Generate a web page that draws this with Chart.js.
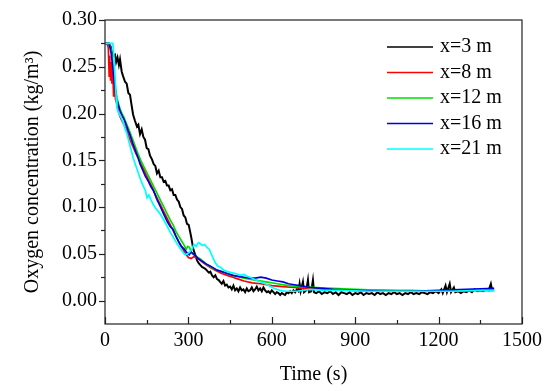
<!DOCTYPE html>
<html>
<head>
<meta charset="utf-8">
<script src="https://cdn.jsdelivr.net/npm/chart.js@4.4.0/dist/chart.umd.min.js"></script>
<style>
  html, body { margin: 0; padding: 0; background: #fff; }
  canvas { display: block; }
</style>
</head>
<body>
<canvas id="chart" width="550" height="391"></canvas>
<script>
// series: time (s) and oxygen concentration (kg/m3)
const labels = ["x=3 m", "x=8 m", "x=12 m", "x=16 m", "x=21 m"];
const colors = ["#000000", "#ff0000", "#00dd00", "#0000dd", "#00ffff"];

const t3 = [0,10,20,25,30,36,40,45,50,54,60,65,72,78,84,90,95,101,108,115,120,126,132,138,144,150,156,162,169,175,181,187,193,199,205,211,217,223,229,235,241,247,253,259,265,271,277,283,289,295,301,306,310,313,317,322,327,331,337,343,349,355,361,367,373,379,385,391,397,403,409,414,420,426,432,438,444,450,456,462,468,474,480,486,492,498,504,510,516,522,528,534,540,546,552,558,564,570,576,582,588,594,600,606,612,618,624,630,636,642,648,654,660,666,672,678,684,690,696,700,704,712,716,724,730,734,742,748,752,760,770,780,790,800,810,820,830,840,850,860,870,880,890,900,910,920,930,940,950,960,970,980,990,1000,1010,1020,1030,1040,1050,1060,1070,1080,1090,1100,1110,1120,1130,1140,1150,1160,1170,1180,1190,1200,1210,1215,1225,1230,1240,1245,1255,1260,1270,1280,1290,1300,1310,1320,1330,1340,1350,1360,1370,1380,1388,1392,1398];
const c3 = [0.275,0.275,0.272,0.265,0.262,0.263,0.255,0.260,0.252,0.258,0.245,0.240,0.234,0.232,0.222,0.220,0.210,0.199,0.192,0.186,0.188,0.178,0.183,0.175,0.172,0.163,0.162,0.155,0.151,0.146,0.144,0.136,0.139,0.132,0.132,0.127,0.128,0.123,0.123,0.118,0.119,0.113,0.113,0.108,0.106,0.100,0.098,0.091,0.089,0.082,0.081,0.074,0.068,0.063,0.056,0.051,0.047,0.043,0.040,0.038,0.036,0.035,0.034,0.032,0.030,0.031,0.027,0.025,0.027,0.023,0.022,0.020,0.018,0.021,0.016,0.017,0.014,0.015,0.012,0.016,0.011,0.013,0.010,0.014,0.011,0.012,0.009,0.013,0.010,0.011,0.014,0.010,0.012,0.015,0.011,0.013,0.010,0.014,0.011,0.009,0.010,0.008,0.011,0.009,0.007,0.009,0.008,0.006,0.008,0.007,0.006,0.009,0.008,0.010,0.008,0.011,0.009,0.012,0.010,0.018,0.010,0.020,0.009,0.011,0.022,0.009,0.010,0.022,0.009,0.008,0.010,0.007,0.009,0.008,0.010,0.007,0.009,0.006,0.009,0.008,0.007,0.009,0.006,0.008,0.007,0.009,0.006,0.008,0.007,0.008,0.006,0.009,0.007,0.008,0.006,0.008,0.007,0.009,0.007,0.008,0.006,0.008,0.007,0.009,0.007,0.008,0.007,0.009,0.008,0.007,0.009,0.008,0.010,0.008,0.012,0.008,0.016,0.009,0.018,0.009,0.014,0.009,0.010,0.008,0.010,0.009,0.011,0.009,0.012,0.010,0.011,0.010,0.012,0.011,0.018,0.012,0.013];

const t8 = [0,8,12,15,17,20,22,25,28,31,34,38,43,50,58,65,72,80,90,100,110,120,130,140,150,160,170,180,190,200,210,220,230,240,250,260,270,280,290,300,310,320,330,342,360,380,400,420,440,460,480,500,530,560,600,640,680,720,760,800,900,1000,1100,1200,1300,1400];
const c8 = [0.275,0.275,0.270,0.240,0.262,0.235,0.255,0.232,0.245,0.218,0.228,0.215,0.210,0.200,0.194,0.190,0.186,0.180,0.172,0.165,0.158,0.152,0.146,0.140,0.133,0.127,0.121,0.114,0.108,0.102,0.096,0.090,0.084,0.078,0.072,0.066,0.060,0.055,0.050,0.046,0.045,0.047,0.046,0.043,0.039,0.035,0.032,0.029,0.027,0.025,0.023,0.021,0.019,0.018,0.016,0.015,0.014,0.013,0.013,0.012,0.011,0.011,0.010,0.010,0.011,0.011];

const t12 = [0,15,22,28,34,40,47,54,61,68,76,83,90,100,110,120,130,140,150,160,170,180,190,200,212,225,235,245,255,265,275,285,292,298,304,310,320,330,345,360,380,400,430,460,500,540,580,620,660,700,760,820,900,1000,1100,1200,1300,1400];
const c12 = [0.275,0.275,0.268,0.255,0.238,0.222,0.212,0.205,0.200,0.196,0.190,0.185,0.180,0.172,0.164,0.156,0.149,0.143,0.137,0.131,0.125,0.119,0.113,0.107,0.100,0.092,0.086,0.081,0.074,0.069,0.064,0.059,0.055,0.058,0.057,0.052,0.049,0.047,0.044,0.040,0.036,0.033,0.030,0.027,0.024,0.022,0.020,0.018,0.016,0.015,0.014,0.013,0.012,0.011,0.011,0.010,0.011,0.011];

const t16 = [0,15,22,28,34,40,47,54,61,68,76,83,90,100,110,120,126,135,145,155,165,175,187,200,212,225,235,245,255,265,275,285,295,303,310,317,325,335,345,355,365,378,390,400,420,440,460,480,500,520,540,560,580,600,620,640,660,680,700,720,740,780,820,900,1000,1100,1200,1300,1400];
const c16 = [0.275,0.275,0.265,0.250,0.232,0.218,0.210,0.203,0.198,0.194,0.188,0.182,0.177,0.168,0.160,0.152,0.146,0.140,0.133,0.128,0.122,0.117,0.108,0.100,0.092,0.084,0.079,0.076,0.069,0.063,0.058,0.055,0.051,0.049,0.052,0.050,0.048,0.045,0.043,0.041,0.039,0.037,0.035,0.033,0.031,0.029,0.027,0.026,0.025,0.024,0.024,0.025,0.024,0.022,0.021,0.020,0.018,0.017,0.016,0.015,0.014,0.013,0.012,0.011,0.010,0.010,0.011,0.012,0.013];

const t21 = [0,10,20,28,32,36,40,43,50,56,62,70,79,88,95,101,110,118,126,135,145,151,158,165,175,187,198,210,223,235,245,257,270,280,288,297,305,313,320,328,336,342,350,358,367,375,385,396,405,414,425,440,455,470,486,500,511,530,550,569,590,610,630,650,666,690,710,738,780,850,950,1050,1150,1250,1350,1400];
const c21 = [0.275,0.275,0.275,0.275,0.262,0.240,0.218,0.206,0.200,0.197,0.193,0.186,0.178,0.168,0.160,0.153,0.145,0.138,0.131,0.124,0.118,0.110,0.113,0.108,0.102,0.097,0.093,0.087,0.080,0.073,0.068,0.062,0.056,0.052,0.049,0.050,0.052,0.055,0.060,0.058,0.062,0.061,0.059,0.060,0.057,0.055,0.048,0.041,0.037,0.036,0.033,0.031,0.030,0.029,0.027,0.028,0.026,0.024,0.021,0.019,0.016,0.013,0.011,0.010,0.010,0.010,0.011,0.012,0.011,0.011,0.010,0.010,0.010,0.010,0.011,0.011];

const times = [t3, t8, t12, t16, t21];
const concs = [c3, c8, c12, c16, c21];
const widths = [2, 1.7, 1.7, 1.7, 1.7];

const xTicks = [0, 300, 600, 900, 1200, 1500];
const yTicks = [0, 0.05, 0.10, 0.15, 0.20, 0.25, 0.30];

const FONT = "'Liberation Serif', 'Times New Roman', serif";

function pts(ts, cs) {
  return ts.map((t, i) => ({ x: t, y: cs[i] }));
}

const datasets = labels.map((name, i) => ({
  label: name,
  data: pts(times[i], concs[i]),
  borderColor: colors[i],
  borderWidth: widths[i],
  pointRadius: 0,
  tension: 0,
  order: labels.length - i
}));

// frame, tick marks and legend drawn the way the original figure has them
const frame = {
  id: "frame",
  afterDraw(chart) {
    const ctx = chart.ctx;
    const a = chart.chartArea;
    const xs = chart.scales.x, ys = chart.scales.y;
    ctx.save();
    ctx.strokeStyle = "#222";
    ctx.lineWidth = 1.2;
    ctx.strokeRect(a.left, a.top, a.right - a.left, a.bottom - a.top);

    // x ticks point inward
    for (let v = 0; v <= 1500; v += 150) {
      const px = Math.round(xs.getPixelForValue(v)) + 0.5;
      const len = v % 300 === 0 ? 7 : 4;
      ctx.beginPath();
      ctx.moveTo(px, a.bottom);
      ctx.lineTo(px, a.bottom - len);
      ctx.stroke();
    }
    // y ticks point outward
    for (let k = 0; k <= 12; k++) {
      const v = k * 0.025;
      const py = Math.round(ys.getPixelForValue(v)) + 0.5;
      const len = k % 2 === 0 ? 6 : 4;
      ctx.beginPath();
      ctx.moveTo(a.left, py);
      ctx.lineTo(a.left - len, py);
      ctx.stroke();
    }

    // legend
    ctx.font = "20px " + FONT;
    ctx.textBaseline = "middle";
    ctx.textAlign = "left";
    chart.data.datasets.forEach((ds, i) => {
      const y = a.top + 27 + i * 25.5;
      ctx.strokeStyle = ds.borderColor;
      ctx.lineWidth = 1.6;
      ctx.beginPath();
      ctx.moveTo(a.right - 135, y);
      ctx.lineTo(a.right - 89, y);
      ctx.stroke();
      ctx.fillStyle = "#000";
      ctx.fillText(ds.label, a.right - 82, y);
    });
    ctx.restore();
  }
};

new Chart(document.getElementById("chart"), {
  type: "line",
  data: { datasets: datasets },
  plugins: [frame],
  options: {
    responsive: false,
    animation: false,
    devicePixelRatio: 1,
    layout: { padding: { top: 18, right: 28, left: 0, bottom: 0 } },
    plugins: { legend: { display: false }, tooltip: { enabled: false } },
    scales: {
      x: {
        type: "linear",
        min: 0,
        max: 1500,
        afterBuildTicks: (s) => { s.ticks = xTicks.map(v => ({ value: v })); },
        afterFit: (s) => { s.height = 67; },
        grid: { display: false, drawTicks: false },
        border: { display: false },
        ticks: { color: "#000", padding: 5, font: { family: FONT, size: 20 }, maxRotation: 0, callback: (v) => String(v) },
        title: { display: true, text: "Time (s)", color: "#000", font: { family: FONT, size: 20 }, padding: { top: 0, bottom: 4 } }
      },
      y: {
        type: "linear",
        min: -0.025,
        max: 0.30,
        afterBuildTicks: (s) => { s.ticks = yTicks.map(v => ({ value: v })); },
        afterFit: (s) => { s.width = 105; },
        grid: { display: false, drawTicks: false },
        border: { display: false },
        ticks: { color: "#000", padding: 8, font: { family: FONT, size: 20 }, callback: (v) => Number(v).toFixed(2) },
        title: { display: true, text: "Oxygen concentration (kg/m³)", color: "#000", font: { family: FONT, size: 20 }, padding: { top: 21, bottom: 0 } }
      }
    }
  }
});
</script>
</body>
</html>
